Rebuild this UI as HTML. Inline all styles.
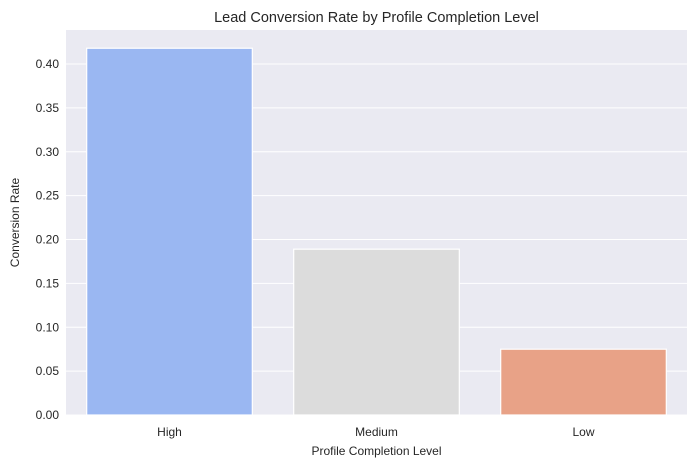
<!DOCTYPE html>
<html><head><meta charset="utf-8"><style>
body{margin:0;background:#fff;font-family:"Liberation Sans",Arial,sans-serif;}
</style></head><body>
<svg id="chart" width="696" height="468" xmlns="http://www.w3.org/2000/svg" font-family="Liberation Sans, Arial, sans-serif"></svg>
<script>
const categories=["High","Medium","Low"];
const rates=[0.418,0.189,0.075];
const colors=["#9ab7f2","#dcdcdc","#e8a287"];
const yTicks=[0,0.05,0.10,0.15,0.20,0.25,0.30,0.35,0.40];
const yTickLabels=["0.00","0.05","0.10","0.15","0.20","0.25","0.30","0.35","0.40"];
const svg=document.getElementById('chart');
const NS="http://www.w3.org/2000/svg";
const L=66,R=687,T=30,B=415,yMax=0.4388;
const y=v=>B-(v/yMax)*(B-T);
const band=(R-L)/categories.length;
const x=i=>L+band*(i+0.5);
function mk(t,a,txt){const e=document.createElementNS(NS,t);for(const k in a)e.setAttribute(k,a[k]);if(txt!==undefined)e.textContent=txt;svg.appendChild(e);return e;}
let e=mk('rect',{x:L,y:T,width:R-L,height:B-T,fill:'#eaeaf2'});


yTicks.forEach((v,i)=>{
 let g=mk('line',{x1:L,x2:R,y1:y(v),y2:y(v),stroke:'#fff','stroke-width':1});
 
 
 let t=mk('text',{x:L-7,y:y(v)+4,'text-anchor':'end','font-size':12,fill:'#262626'},yTickLabels[i]);
 
 
});
categories.forEach((c,i)=>{
 const w=band*0.8;
 let b=mk('rect',{x:x(i)-w/2,y:y(rates[i]),width:w,height:B-y(rates[i]),fill:colors[i],stroke:'#fff','stroke-width':1.2});
 
 
 let t=mk('text',{x:x(i),y:B+21,'text-anchor':'middle','font-size':12,fill:'#262626'},c);
 
 
});
e=mk('text',{x:(L+R)/2,y:22,'text-anchor':'middle','font-size':14.5,fill:'#262626'},'Lead Conversion Rate by Profile Completion Level');


e=mk('text',{x:(L+R)/2,y:455,'text-anchor':'middle','font-size':12,fill:'#262626'},'Profile Completion Level');


e=mk('text',{x:19,y:(T+B)/2,'text-anchor':'middle','font-size':12,fill:'#262626',transform:'rotate(-90 19 '+((T+B)/2)+')'},'Conversion Rate');


</script>
</body></html>
